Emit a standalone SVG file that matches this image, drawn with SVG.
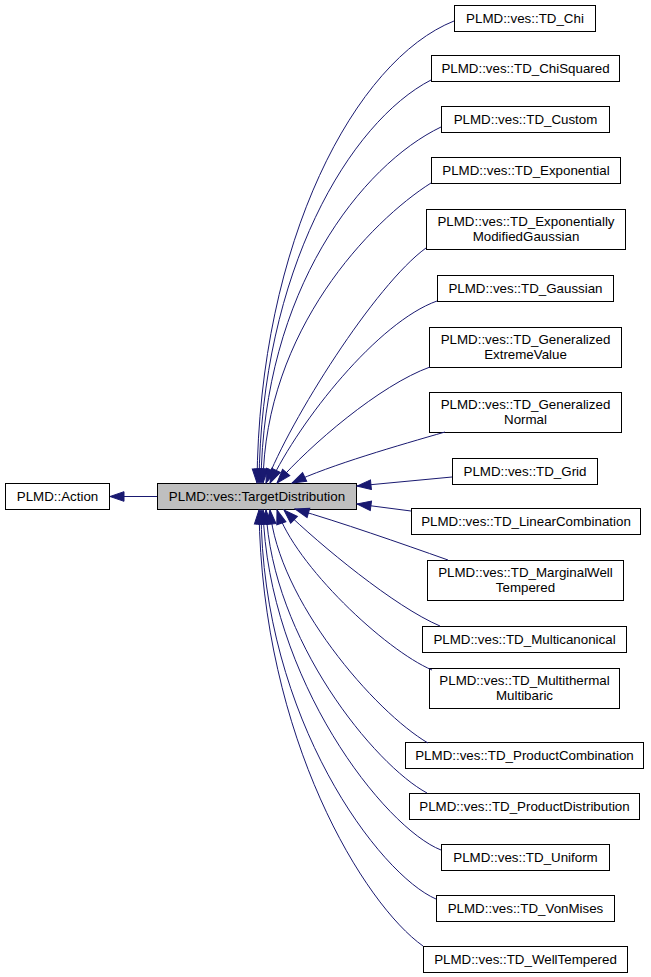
<svg xmlns="http://www.w3.org/2000/svg" width="651" height="977" viewBox="0 0 651 977">
<defs>
<style>
.n rect{fill:#ffffff;stroke:#000000;stroke-width:1}
.n.hl rect{fill:#bfbfbf}
.n text{font-family:"Liberation Sans",Arial,Helvetica,sans-serif;font-size:13.33px;fill:#000000;text-anchor:middle}
.e path{fill:none;stroke:#191970;stroke-width:1;marker-end:url(#ah)}
</style>
<marker id="ah" markerUnits="userSpaceOnUse" markerWidth="16" markerHeight="12" viewBox="0 0 16 12" refX="15" refY="6" orient="auto">
<path d="M1,1.2 L15,6 L1,10.8 z" fill="#191970" stroke="#191970" stroke-width="1"/>
</marker>
</defs>
<rect width="651" height="977" fill="#ffffff"/>
<g id="nodes">
<g id="node-action" class="n"><rect x="5.5" y="483.5" width="104" height="26"/><text x="57.5" y="501">PLMD::Action</text></g>
<g id="node-targetdistribution" class="n hl"><rect x="157.5" y="483.5" width="199" height="26"/><text x="257" y="501">PLMD::ves::TargetDistribution</text></g>
<g id="node-chi" class="n"><rect x="454.5" y="5.5" width="141" height="26"/><text x="525" y="23">PLMD::ves::TD_Chi</text></g>
<g id="node-chisquared" class="n"><rect x="431.5" y="55.5" width="188" height="26"/><text x="525.5" y="73">PLMD::ves::TD_ChiSquared</text></g>
<g id="node-custom" class="n"><rect x="441.5" y="106.5" width="168" height="26"/><text x="525.5" y="124">PLMD::ves::TD_Custom</text></g>
<g id="node-exponential" class="n"><rect x="431.5" y="157.5" width="189" height="26"/><text x="526" y="175">PLMD::ves::TD_Exponential</text></g>
<g id="node-emg" class="n"><rect x="426.5" y="209.5" width="199" height="40"/><text x="526" y="226">PLMD::ves::TD_Exponentially</text><text x="526" y="241">ModifiedGaussian</text></g>
<g id="node-gaussian" class="n"><rect x="437.5" y="275.5" width="176" height="26"/><text x="525.5" y="293">PLMD::ves::TD_Gaussian</text></g>
<g id="node-gev" class="n"><rect x="429.5" y="327.5" width="192" height="40"/><text x="525.5" y="344">PLMD::ves::TD_Generalized</text><text x="525.5" y="359">ExtremeValue</text></g>
<g id="node-gennormal" class="n"><rect x="429.5" y="392.5" width="192" height="40"/><text x="525.5" y="409">PLMD::ves::TD_Generalized</text><text x="525.5" y="424">Normal</text></g>
<g id="node-grid" class="n"><rect x="452.5" y="458.5" width="145" height="26"/><text x="525" y="476">PLMD::ves::TD_Grid</text></g>
<g id="node-linearcombination" class="n"><rect x="411.5" y="508.5" width="229" height="26"/><text x="526" y="526">PLMD::ves::TD_LinearCombination</text></g>
<g id="node-marginalwelltempered" class="n"><rect x="427.5" y="560.5" width="196" height="40"/><text x="525.5" y="577">PLMD::ves::TD_MarginalWell</text><text x="525.5" y="592">Tempered</text></g>
<g id="node-multicanonical" class="n"><rect x="422.5" y="626.5" width="204" height="26"/><text x="524.5" y="644">PLMD::ves::TD_Multicanonical</text></g>
<g id="node-multithermalmultibaric" class="n"><rect x="429.5" y="668.5" width="190" height="40"/><text x="524.5" y="685">PLMD::ves::TD_Multithermal</text><text x="524.5" y="700">Multibaric</text></g>
<g id="node-productcombination" class="n"><rect x="405.5" y="742.5" width="238" height="26"/><text x="524.5" y="760">PLMD::ves::TD_ProductCombination</text></g>
<g id="node-productdistribution" class="n"><rect x="409.5" y="793.5" width="230" height="26"/><text x="524.5" y="811">PLMD::ves::TD_ProductDistribution</text></g>
<g id="node-uniform" class="n"><rect x="441.5" y="844.5" width="168" height="26"/><text x="525.5" y="862">PLMD::ves::TD_Uniform</text></g>
<g id="node-vonmises" class="n"><rect x="436.5" y="895.5" width="178" height="26"/><text x="525.5" y="913">PLMD::ves::TD_VonMises</text></g>
<g id="node-welltempered" class="n"><rect x="423.5" y="946.5" width="204" height="26"/><text x="525.5" y="964">PLMD::ves::TD_WellTempered</text></g>
</g>
<g id="connectors" class="e">
<path d="M157,496.5 L110,496.5"/>
<path d="M454,21 C356,60 259,240 257,483"/>
<path d="M431,80 C350,122 261,270 259,483"/>
<path d="M441,127 C362,165 263,290 261,483"/>
<path d="M431,183 C371,221 265,330 263,483"/>
<path d="M426,248 C375,285 290,420 266,483"/>
<path d="M437,301 C378,322 300,420 270,483"/>
<path d="M430,367 C380,385 310,445 277,483"/>
<path d="M445,432 C400,445 330,465 292,483"/>
<path d="M452,477 L357,486"/>
<path d="M411,511 L357,504"/>
<path d="M448,560 C400,543 340,522 295,509"/>
<path d="M440,626 C395,607 320,545 284,510"/>
<path d="M432,670 C385,650 295,565 277,510"/>
<path d="M428,743 C375,712 278,600 270,510"/>
<path d="M427,793 C375,765 272,640 266,510"/>
<path d="M441,850 C385,828 268,680 263,510"/>
<path d="M436,899 C380,875 262,720 261,510"/>
<path d="M423,946 C365,905 262,740 259,510"/>
</g>
</svg>
